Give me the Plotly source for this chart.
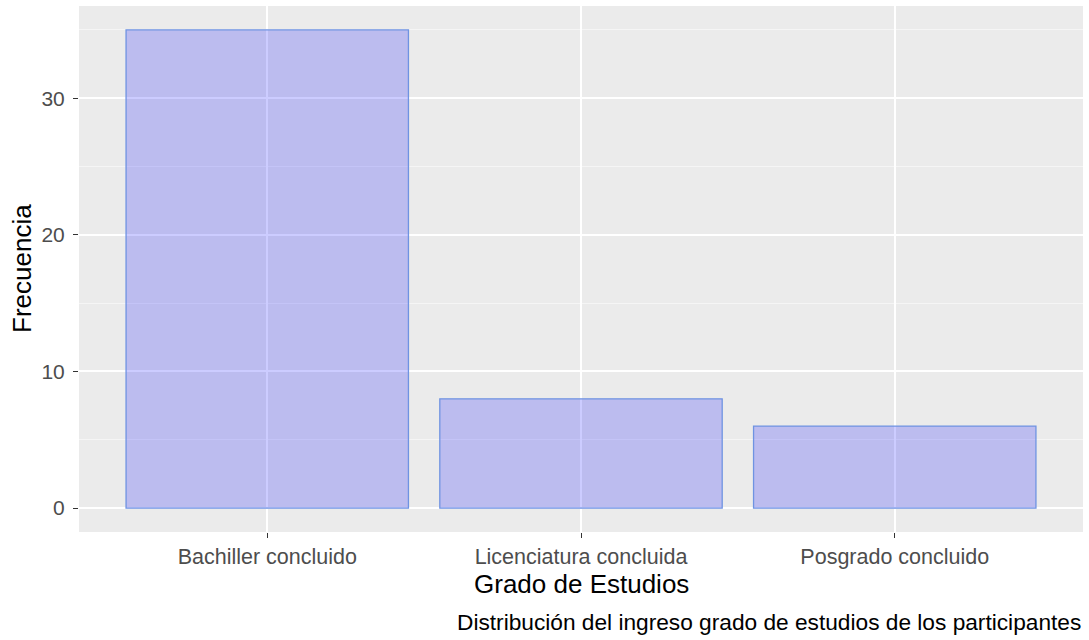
import plotly.graph_objects as go

categories = ["Bachiller concluido", "Licenciatura concluida", "Posgrado concluido"]
frecuencia = [35, 8, 6]
y_ticks = [0, 10, 20, 30]

W, H = 1089, 640
L, R, T, B = 79, 6, 6, 108
ph = H - T - B

fig = go.Figure()
fig.add_trace(go.Bar(
    x=categories, y=frecuencia, width=0.9,
    marker=dict(color="rgba(0,0,255,0.2)", line=dict(color="#6F93E2", width=1.3)),
    hoverinfo="x+y",
))

ymax = max(frecuencia)
fig.update_layout(
    width=W, height=H,
    margin=dict(l=L, r=R, t=T, b=B, autoexpand=False),
    paper_bgcolor="white", plot_bgcolor="#EBEBEB",
    font=dict(family="Liberation Sans, Arial, sans-serif", color="#4D4D4D", size=21),
    showlegend=False, bargap=0.1,
    xaxis=dict(
        range=[-0.6, len(categories) - 0.4], showgrid=True, gridcolor="white", gridwidth=1.5,
        ticks="outside", ticklen=5, tickcolor="#333333", tickwidth=1,
        tickfont=dict(size=21.5, color="#4D4D4D"), zeroline=False, showline=False,
        automargin=False,
    ),
    yaxis=dict(
        range=[-0.05 * ymax, 1.05 * ymax], tickvals=y_ticks, showgrid=True,
        gridcolor="white", gridwidth=1.5,
        minor=dict(dtick=5, tick0=0, showgrid=True, gridcolor="#F5F5F5", gridwidth=0.8, ticks=""),
        ticks="outside", ticklen=5, tickcolor="#333333", tickwidth=1,
        tickfont=dict(size=21, color="#4D4D4D"), zeroline=False, showline=False,
        automargin=False, ticklabelstandoff=4,
    ),
    annotations=[
        dict(text="Grado de Estudios", xref="paper", yref="paper", x=0.5,
             y=-(584 - (H - B)) / ph, xanchor="center", yanchor="middle",
             showarrow=False, font=dict(size=26, color="black")),
        dict(text="Frecuencia", xref="paper", yref="paper", x=-(L - 22) / (W - L - R),
             y=0.5, xanchor="center", yanchor="middle", textangle=-90,
             showarrow=False, font=dict(size=26, color="black")),
        dict(text="Distribución del ingreso grado de estudios de los participantes",
             xref="paper", yref="paper", x=1, y=-(622 - (H - B)) / ph,
             xanchor="right", yanchor="middle", showarrow=False,
             font=dict(size=22.7, color="black")),
    ],
)

fig.write_html("out.html", config={"displayModeBar": False},
               post_script="document.body.style.margin='0';")
